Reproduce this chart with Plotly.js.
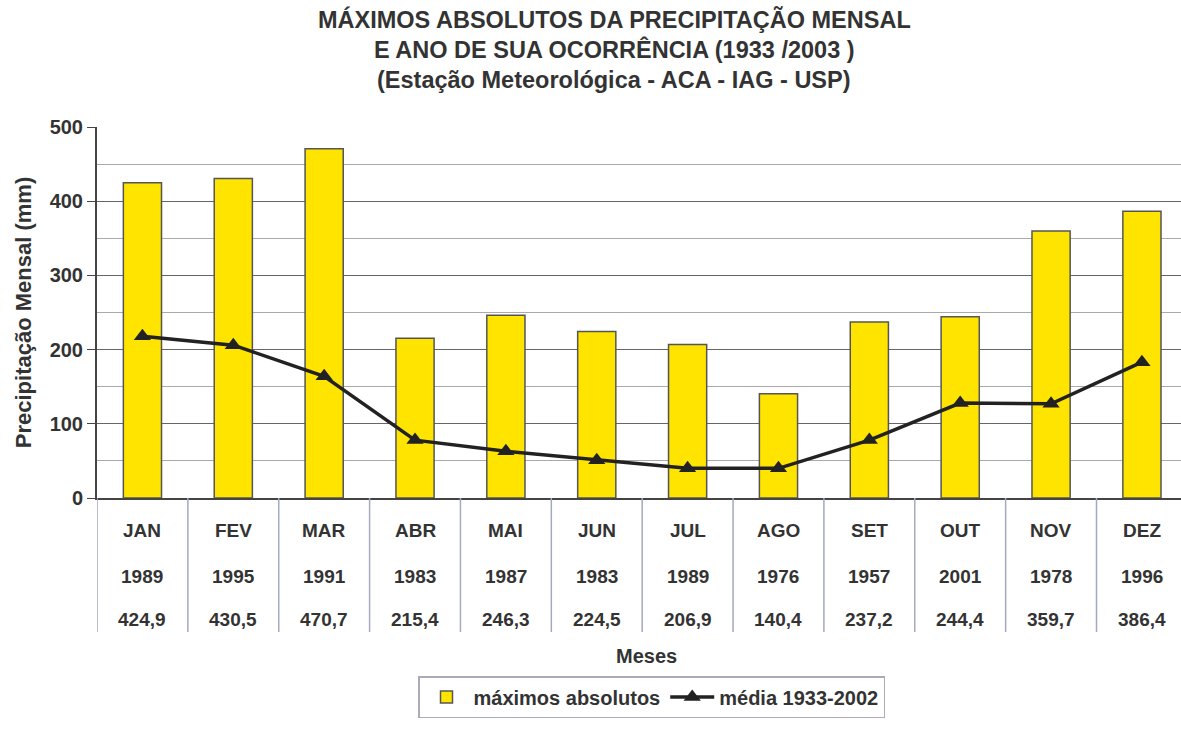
<!DOCTYPE html>
<html><head><meta charset="utf-8">
<script src="https://cdn.plot.ly/plotly-3.0.1.min.js"></script>
<style>html,body{margin:0;padding:0;background:#fff}#c{width:1181px;height:732px}</style>
</head><body><div id="c"></div>
<script>
const months = ['JAN','FEV','MAR','ABR','MAI','JUN','JUL','AGO','SET','OUT','NOV','DEZ'];
const years = ['1989','1995','1991','1983','1987','1983','1989','1976','1957','2001','1978','1996'];
const maximos = [424.9,430.5,470.7,215.4,246.3,224.5,206.9,140.4,237.2,244.4,359.7,386.4];
const media = [218,206,164,78,63,51,40,40,78,128,127,183];
const titleLines = ['MÁXIMOS ABSOLUTOS DA PRECIPITAÇÃO MENSAL','E ANO DE SUA OCORRÊNCIA (1933 /2003 )','(Estação Meteorológica - ACA - IAG - USP)'];

const F = 'Arial, "Liberation Sans", sans-serif';
const TC = '#333';
const traces = [
  {type:'bar', x:months, y:maximos, name:'<b>máximos absolutos</b>', width:0.42,
   marker:{color:'#FFE400', line:{color:'#555', width:1.5}}},
  {type:'scatter', mode:'lines+markers', x:months, y:media, name:'<b>média 1933-2002</b>',
   line:{color:'#222', width:3.5}, marker:{symbol:'triangle-up', size:15, color:'#222'}}
];
const ann = [];
const toPaper = Y => (498 - Y) / 371;
const px = X => (X - 97) / 1084;
const titleY = [20, 49, 80];
titleLines.forEach((t,i)=>{
  ann.push({x:px(614), xref:'paper', y:toPaper(titleY[i]), yref:'paper', yanchor:'middle', text:'<b>'+t+'</b>', showarrow:false, font:{family:F,size:23.5,color:TC}});
});
months.forEach((m,i)=>{
  ann.push({x:m, xref:'x', y:toPaper(530), yref:'paper', yanchor:'middle', text:'<b>'+m+'</b>', showarrow:false, font:{family:F,size:19,color:TC}});
  ann.push({x:m, xref:'x', y:toPaper(576), yref:'paper', yanchor:'middle', text:'<b>'+years[i]+'</b>', showarrow:false, font:{family:F,size:19,color:TC}});
  ann.push({x:m, xref:'x', y:toPaper(619), yref:'paper', yanchor:'middle', text:'<b>'+maximos[i].toFixed(1).replace('.',',')+'</b>', showarrow:false, font:{family:F,size:19,color:TC}});
});
ann.push({x:px(646), xref:'paper', y:toPaper(656), yref:'paper', yanchor:'middle', text:'<b>Meses</b>', showarrow:false, font:{family:F,size:20,color:TC}});
const shapes = [];
for (let i=0;i<=12;i++){
  shapes.push({type:'line', xref:'x', yref:'paper', x0:i-0.5, x1:i-0.5, y0:0, y1:toPaper(632), line:{color:'#a4a8c0', width:1.5}});
}
const layout = {
  width:1181, height:732, paper_bgcolor:'#fff', plot_bgcolor:'#fff',
  margin:{l:97, r:0, t:127, b:234},
  showlegend:true,
  legend:{orientation:'h', x:px(418), xanchor:'left', y:toPaper(676), yanchor:'top',
    bordercolor:'#aab', borderwidth:1.5, font:{family:F, size:20, color:TC}, bgcolor:'#fff',
    itemwidth:44, tracegroupgap:0},
  xaxis:{type:'category', range:[-0.5, 11.43], showticklabels:false, showgrid:false,
    showline:true, linecolor:'#444', linewidth:2, ticks:'', zeroline:false},
  yaxis:{range:[0,500], dtick:100, tick0:0, showgrid:true, gridcolor:'#666', gridwidth:1.2,
    minor:{dtick:50, showgrid:true, gridcolor:'#aaa', gridwidth:1},
    showline:true, linecolor:'#444', linewidth:2, ticks:'outside', ticklen:8, tickcolor:'#444',
    tickfont:{family:F, size:20, color:TC, weight:'bold'}, zeroline:false,
    title:{text:'<b>Precipitação Mensal (mm)</b>', font:{family:F, size:22, color:TC}, standoff:12}},
  annotations:ann, shapes:shapes
};
Plotly.newPlot('c', traces, layout, {displayModeBar:false});
</script></body></html>
